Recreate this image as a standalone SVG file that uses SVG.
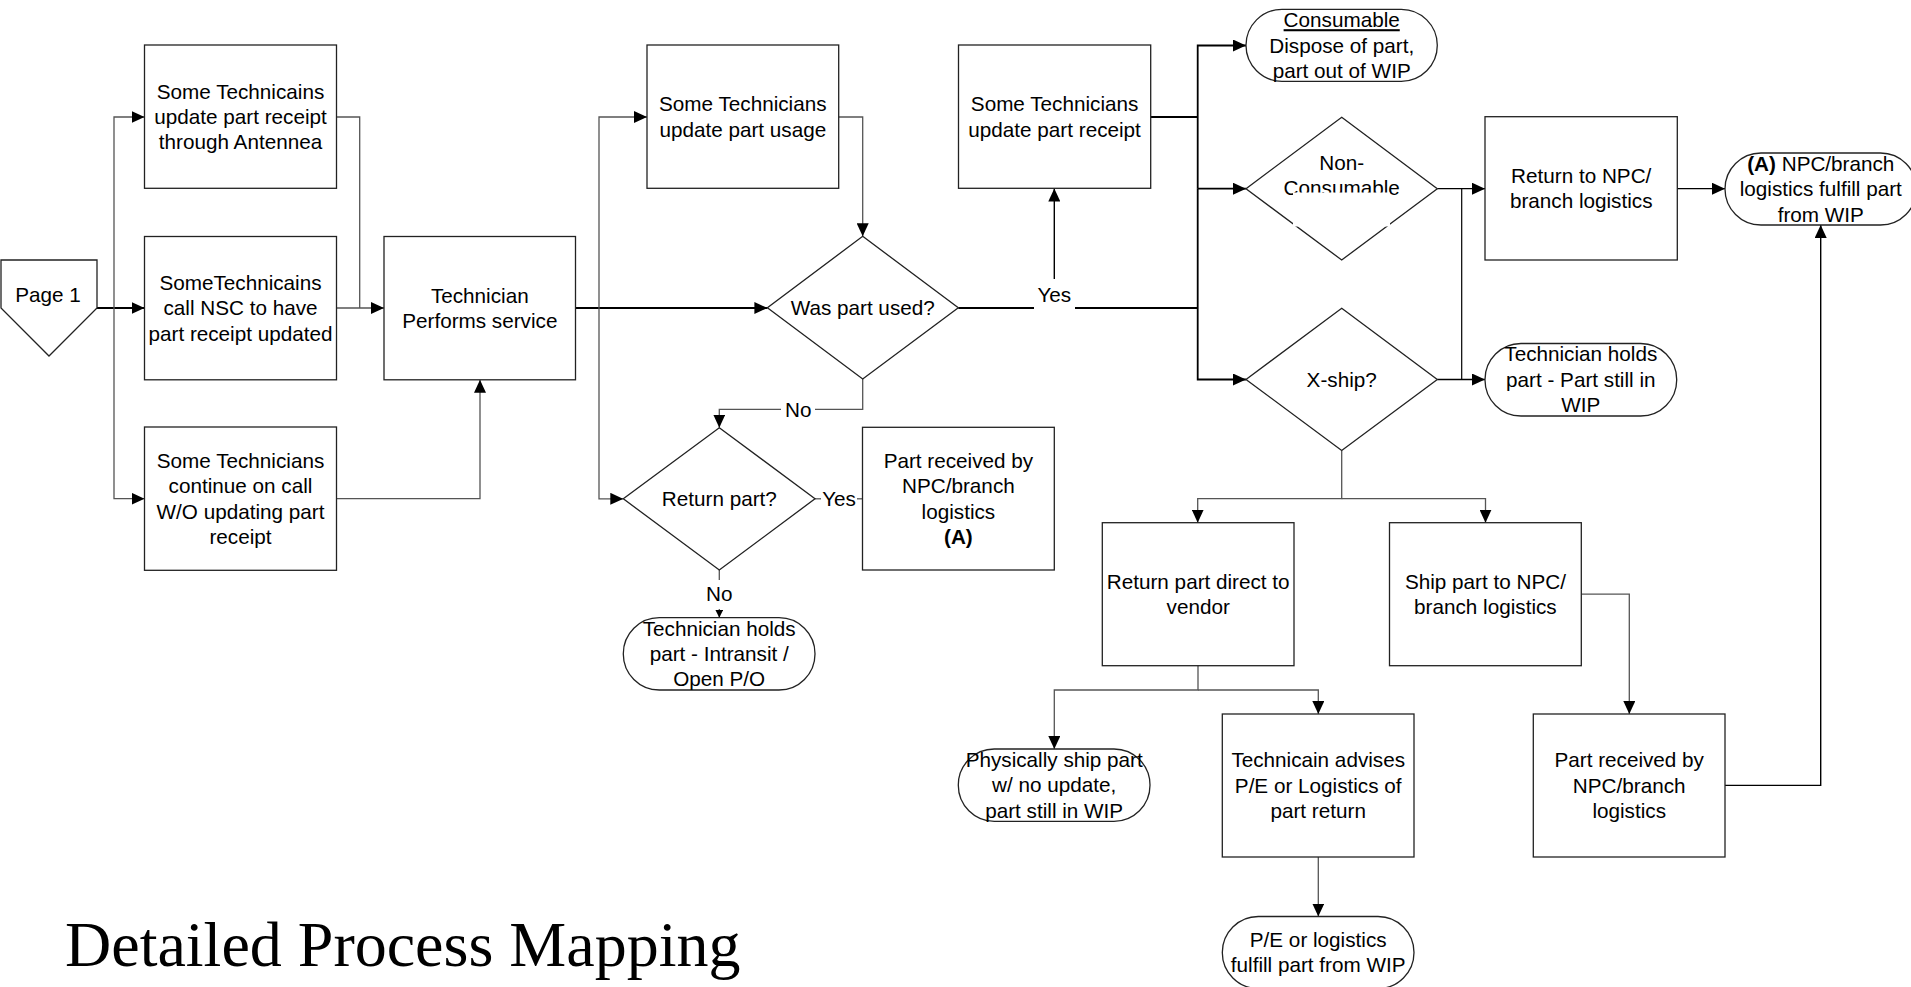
<svg xmlns="http://www.w3.org/2000/svg" width="1911" height="987" viewBox="0 0 1911 987">
  <style>
    .box { fill: #fff; stroke: #222; stroke-width: 1.3; }
    .t { font-family: "Liberation Sans", Arial, sans-serif; font-size: 20.7px; text-anchor: middle; fill: #000; }
    .lbl { font-family: "Liberation Sans", Arial, sans-serif; font-size: 20.7px; text-anchor: middle; fill: #000; }
    .c { fill: none; stroke: #555; stroke-width: 1.3; }
    .k { fill: none; stroke: #000; stroke-width: 1.8; }
    .title { font-family: "Liberation Serif", "Times New Roman", serif; font-size: 64px; fill: #000; }
  </style>
  <defs>
    <marker id="ah" viewBox="0 0 13 12" markerWidth="13" markerHeight="12" refX="13" refY="6" orient="auto" markerUnits="userSpaceOnUse">
      <path d="M0,0 L13,6 L0,12 z" fill="#000"/>
    </marker>
    <marker id="ahs" viewBox="0 0 8 8" markerWidth="8" markerHeight="8" refX="8" refY="4" orient="auto" markerUnits="userSpaceOnUse">
      <path d="M0,0 L8,4 L0,8 z" fill="#000"/>
    </marker>
  </defs>

  <rect width="1911" height="987" fill="#fff"/>

  <!-- connectors -->
  <g id="connectors">
    <!-- page entry fan-out -->
    <path class="k" d="M97,308 H144.5" marker-end="url(#ah)"/>
    <path class="c" d="M114,308 V117 H144.5" marker-end="url(#ah)"/>
    <path class="c" d="M114,308 V498.7 H144.5" marker-end="url(#ah)"/>
    <!-- into technician service -->
    <path class="c" d="M336.5,117 H359.7 V308"/>
    <path class="c" d="M336.5,308 H384" marker-end="url(#ah)"/>
    <path class="c" d="M336.5,498.7 H480 V379.8" marker-end="url(#ah)"/>
    <!-- service to decision -->
    <path class="k" d="M575.5,308 H767.4" marker-end="url(#ah)"/>
    <path class="c" d="M599,308 V117 H647" marker-end="url(#ah)"/>
    <path class="c" d="M599,308 V498.8 H623.3" marker-end="url(#ah)"/>
    <path class="c" d="M838.7,117 H862.7 V236.3" marker-end="url(#ah)"/>
    <!-- Was part used? : No -->
    <path class="c" d="M862.7,379 V409.3 H815"/>
    <path class="c" d="M781,409.3 H719.3 V427.7" marker-end="url(#ah)"/>
    <!-- Was part used? : Yes -->
    <path class="k" d="M958.3,308 H1034"/>
    <path class="k" d="M1075,308 H1197.7"/>
    <path class="k" d="M1054.3,279 V188.5" marker-end="url(#ah)" style="stroke-width:1.4"/>
    <!-- receipt bus -->
    <path class="k" d="M1150.7,117 H1197.7"/>
    <path class="k" d="M1197.7,188.7 V45.5 H1246" marker-end="url(#ah)"/>
    <path class="k" d="M1197.7,188.7 H1246" marker-end="url(#ah)"/>
    <path class="k" d="M1197.7,188.7 V379.5 H1246" marker-end="url(#ah)"/>
    <!-- Return part? -->
    <path class="c" d="M815,498.8 H821"/>
    <path class="c" d="M857,498.8 H862.5"/>
    <path class="c" d="M719.3,570 V580"/>
    <path class="c" d="M719.3,609 V617.7" marker-end="url(#ahs)"/>
    <!-- right-hand branches -->
    <path class="k" d="M1437.3,188.7 H1485" marker-end="url(#ah)" style="stroke-width:1.3"/>
    <path class="k" d="M1437.3,379.5 H1485" marker-end="url(#ah)" style="stroke-width:1.3"/>
    <path class="k" d="M1461.7,188.7 V379.5" style="stroke-width:1.2"/>
    <path class="k" d="M1677.3,188.7 H1725" marker-end="url(#ah)" style="stroke-width:1.3"/>
    <!-- X-ship split -->
    <path class="c" d="M1341.7,450.5 V498.6 H1197.7 V522.7" marker-end="url(#ah)"/>
    <path class="c" d="M1341.7,498.6 H1485.5 V522.7" marker-end="url(#ah)"/>
    <!-- vendor split -->
    <path class="c" d="M1198,665.7 V690 H1054.3 V749" marker-end="url(#ah)"/>
    <path class="c" d="M1198,690 H1318.3 V714" marker-end="url(#ah)"/>
    <path class="c" d="M1318.3,857 V916.5" marker-end="url(#ah)"/>
    <!-- ship to logistics -->
    <path class="c" d="M1581.3,594.2 H1629.3 V714" marker-end="url(#ah)"/>
    <path class="k" d="M1725,785.4 H1820.7 V225" marker-end="url(#ah)" style="stroke-width:1.4"/>
  </g>

  <!-- connector labels -->
  <g id="labels">
    <text class="lbl" x="1054.3" y="302.2">Yes</text>
    <text class="lbl" x="798.3" y="416.5">No</text>
    <text class="lbl" x="839" y="506">Yes</text>
    <text class="lbl" x="719.3" y="601.2">No</text>
  </g>

  <!-- off-page reference -->
  <g id="page1">
    <polygon class="box" points="1,260 97,260 97,308 49,356 1,308"/>
    <text class="t" x="48" y="302">Page 1</text>
  </g>

  <g id="antennea">
    <rect class="box" x="144.5" y="45" width="192" height="143.3"/>
    <text class="t"><tspan x="240.5" y="98.6">Some Technicains</tspan><tspan x="240.5" y="123.9">update part receipt</tspan><tspan x="240.5" y="149.2">through Antennea</tspan></text>
  </g>

  <g id="call-nsc">
    <rect class="box" x="144.5" y="236.5" width="192" height="143.3"/>
    <text class="t"><tspan x="240.5" y="290.1">SomeTechnicains</tspan><tspan x="240.5" y="315.4">call NSC to have</tspan><tspan x="240.5" y="340.7">part receipt updated</tspan></text>
  </g>

  <g id="continue-call">
    <rect class="box" x="144.5" y="427" width="192" height="143.3"/>
    <text class="t"><tspan x="240.5" y="468">Some Technicians</tspan><tspan x="240.5" y="493.3">continue on call</tspan><tspan x="240.5" y="518.6">W/O updating part</tspan><tspan x="240.5" y="543.9">receipt</tspan></text>
  </g>

  <g id="perform-service">
    <rect class="box" x="384" y="236.5" width="191.5" height="143.3"/>
    <text class="t"><tspan x="479.8" y="302.5">Technician</tspan><tspan x="479.8" y="327.8">Performs service</tspan></text>
  </g>

  <g id="update-usage">
    <rect class="box" x="647" y="45" width="191.7" height="143.3"/>
    <text class="t"><tspan x="742.8" y="111.2">Some Technicians</tspan><tspan x="742.8" y="136.5">update part usage</tspan></text>
  </g>

  <g id="part-used">
    <polygon class="box" points="862.7,236.3 958.3,307.7 862.7,379 767.4,307.7"/>
    <text class="t" x="862.7" y="315">Was part used?</text>
  </g>

  <g id="return-part">
    <polygon class="box" points="719.3,427.7 815,498.8 719.3,570 623.3,498.8"/>
    <text class="t" x="719.3" y="506">Return part?</text>
  </g>

  <g id="received-a">
    <rect class="box" x="862.5" y="427.3" width="191.8" height="142.7"/>
    <text class="t"><tspan x="958.4" y="468">Part received by</tspan><tspan x="958.4" y="493.3">NPC/branch</tspan><tspan x="958.4" y="518.6">logistics</tspan><tspan x="958.4" y="543.9" font-weight="bold">(A)</tspan></text>
  </g>

  <g id="hold-intransit">
    <rect class="box" x="623.3" y="617.7" width="191.7" height="72.3" rx="36" ry="36"/>
    <text class="t"><tspan x="719.2" y="635.7">Technician holds</tspan><tspan x="719.2" y="661">part - Intransit /</tspan><tspan x="719.2" y="686.3">Open P/O</tspan></text>
  </g>

  <g id="update-receipt">
    <rect class="box" x="958.5" y="45" width="192.2" height="143.3"/>
    <text class="t"><tspan x="1054.6" y="111.2">Some Technicians</tspan><tspan x="1054.6" y="136.5">update part receipt</tspan></text>
  </g>

  <g id="consumable">
    <rect class="box" x="1246" y="9.3" width="191.3" height="72" rx="36" ry="36"/>
    <text class="t"><tspan x="1341.7" y="27.2" text-decoration="underline">Consumable</tspan><tspan x="1341.7" y="52.5">Dispose of part,</tspan><tspan x="1341.7" y="77.8">part out of WIP</tspan></text>
  </g>

  <g id="non-consumable">
    <polygon class="box" points="1341.7,117.3 1437.3,188.7 1341.7,260 1246,188.7"/>
    <text class="t"><tspan x="1341.7" y="169.5">Non-</tspan><tspan x="1341.7" y="194.8">Consumable</tspan></text>
    <rect x="1293" y="192.5" width="97" height="34" fill="#fff"/>
  </g>

  <g id="x-ship">
    <polygon class="box" points="1341.7,308.3 1437.3,379.5 1341.7,450.5 1246,379.5"/>
    <text class="t" x="1341.7" y="386.7">X-ship?</text>
  </g>

  <g id="return-npc">
    <rect class="box" x="1485" y="116.7" width="192.3" height="143.3"/>
    <text class="t"><tspan x="1581.2" y="182.8">Return to NPC/</tspan><tspan x="1581.2" y="208.1">branch logistics</tspan></text>
  </g>

  <g id="fulfill-a">
    <rect class="box" x="1725" y="153" width="191.5" height="72" rx="36" ry="36"/>
    <text class="t"><tspan x="1820.8" y="170.9"><tspan font-weight="bold">(A)</tspan> NPC/branch</tspan><tspan x="1820.8" y="196.2">logistics fulfill part</tspan><tspan x="1820.8" y="221.5">from WIP</tspan></text>
  </g>

  <g id="hold-wip">
    <rect class="box" x="1485" y="343.5" width="191.7" height="72.5" rx="36" ry="36"/>
    <text class="t"><tspan x="1580.8" y="361.4">Technician holds</tspan><tspan x="1580.8" y="386.7">part - Part still in</tspan><tspan x="1580.8" y="412">WIP</tspan></text>
  </g>

  <g id="direct-vendor">
    <rect class="box" x="1102.3" y="522.7" width="191.7" height="143"/>
    <text class="t"><tspan x="1198.2" y="588.8">Return part direct to</tspan><tspan x="1198.2" y="614.1">vendor</tspan></text>
  </g>

  <g id="ship-npc">
    <rect class="box" x="1389.5" y="522.7" width="191.8" height="143"/>
    <text class="t"><tspan x="1485.4" y="588.8">Ship part to NPC/</tspan><tspan x="1485.4" y="614.1">branch logistics</tspan></text>
  </g>

  <g id="ship-no-update">
    <rect class="box" x="958.3" y="749" width="191.7" height="72.3" rx="36" ry="36"/>
    <text class="t"><tspan x="1054.2" y="766.9">Physically ship part</tspan><tspan x="1054.2" y="792.2">w/ no update,</tspan><tspan x="1054.2" y="817.5">part still in WIP</tspan></text>
  </g>

  <g id="advise-pe">
    <rect class="box" x="1222.3" y="714" width="191.7" height="143"/>
    <text class="t"><tspan x="1318.2" y="767.4">Technicain advises</tspan><tspan x="1318.2" y="792.7">P/E or Logistics of</tspan><tspan x="1318.2" y="818">part return</tspan></text>
  </g>

  <g id="pe-fulfill">
    <rect class="box" x="1222.3" y="916.5" width="191.7" height="72" rx="36" ry="36"/>
    <text class="t"><tspan x="1318.2" y="947">P/E or logistics</tspan><tspan x="1318.2" y="972.3">fulfill part from WIP</tspan></text>
  </g>

  <g id="received-npc">
    <rect class="box" x="1533.3" y="714" width="191.7" height="143"/>
    <text class="t"><tspan x="1629.2" y="767.4">Part received by</tspan><tspan x="1629.2" y="792.7">NPC/branch</tspan><tspan x="1629.2" y="818">logistics</tspan></text>
  </g>

  <text class="title" x="65" y="966">Detailed Process Mapping</text>
</svg>
